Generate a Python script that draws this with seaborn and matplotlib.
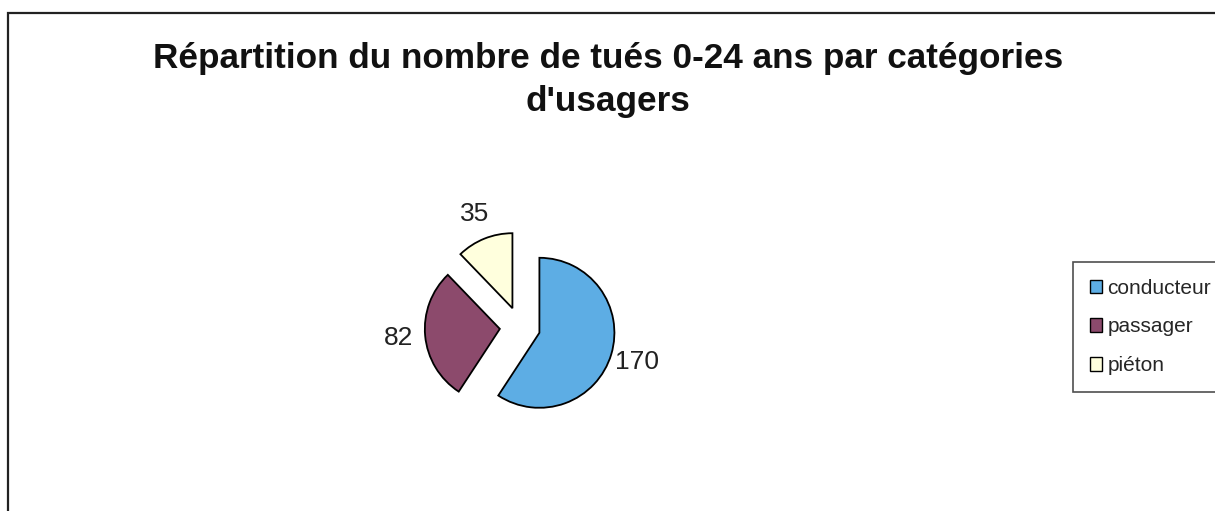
import matplotlib
matplotlib.use("Agg")
import matplotlib.pyplot as plt
from matplotlib.patches import Rectangle, Patch
import seaborn as sns

sns.set_theme(style="white")
plt.rcParams['font.family'] = ['Liberation Sans', 'DejaVu Sans']

# Data
categories = ['conducteur', 'passager', 'piéton']
values = [170, 82, 35]
colors = ['#5DADE4', '#8C4A6C', '#FFFFDD']
title = "Répartition du nombre de tués 0-24 ans par catégories\nd'usagers"

W, H = 1215, 511
fig = plt.figure(figsize=(W / 100, H / 100), dpi=100)

# outer chart frame
fig.patches.append(Rectangle((8 / W, -0.1), 1.2, 1.1 - 13 / H, transform=fig.transFigure,
                             fill=False, edgecolor='#222222', linewidth=1.6, figure=fig))

fig.text(608 / W, 1 - 80 / H, title, ha='center', va='center', fontsize=25.3,
         fontweight='bold', linespacing=1.4, color='#111111')

# pie axes: centre (520, 327) px, radius 75 px
cx, cy, L, r = 520, 327, 2.0, 75
S = 2 * L * r
ax = fig.add_axes([(cx - S / 2) / W, (H - cy - S / 2) / H, S / W, S / H])
wedges, texts = ax.pie(values, labels=[str(v) for v in values], colors=colors,
                       startangle=90, counterclock=False, explode=[0.27] * 3,
                       labeldistance=1.36,
                       wedgeprops=dict(edgecolor='black', linewidth=1.3),
                       textprops=dict(fontsize=19, color='#222222'))
for t in texts:
    t.set_ha('center')
    t.set_va('center')
ax.set_xlim(-L, L)
ax.set_ylim(-L, L)
ax.set_aspect('equal')
ax.axis('off')

handles = [Patch(facecolor=c, edgecolor='black', linewidth=1.0) for c in colors]
leg = fig.legend(handles, categories, loc='upper left', bbox_to_anchor=(1073 / W, 1 - 262 / H),
                 frameon=True, fontsize=15, handlelength=0.6, handleheight=0.6,
                 handletextpad=0.25, labelspacing=0.95, borderpad=0.8, borderaxespad=0,
                 fancybox=False)
leg.get_frame().set_edgecolor('#222222')
leg.get_frame().set_linewidth(1.2)

fig.savefig('out.png', dpi=100)
